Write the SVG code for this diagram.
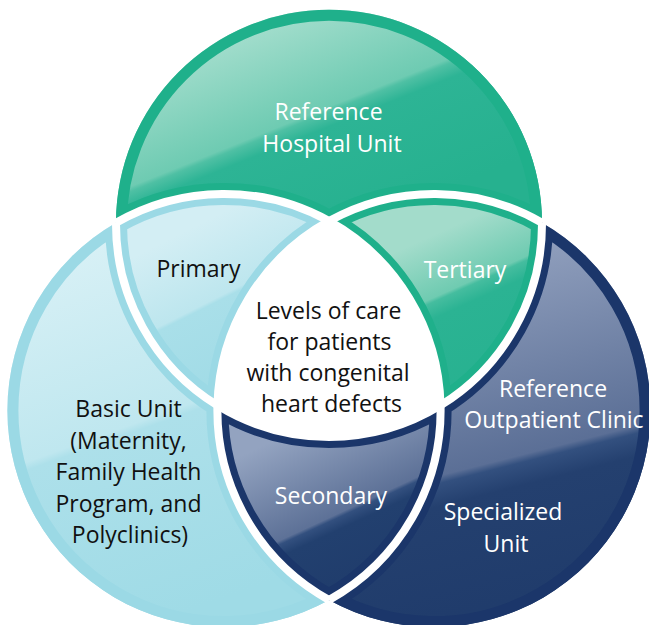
<svg xmlns="http://www.w3.org/2000/svg" xmlns:xlink="http://www.w3.org/1999/xlink" width="649" height="625" viewBox="0 0 649 625">
<style>
.lbl{font-family:"Open Sans","Noto Sans","Liberation Sans",sans-serif;font-size:23px;text-anchor:middle}
.w{fill:#ffffff}
.k{fill:#111111}
.gap{fill:none;stroke:#ffffff;stroke-width:8}
.band{fill:none;stroke-width:22}
</style>
<defs>
<path id="p-top" d="M116,222.74 A213,213 0 1 1 542,222.74 A216.6,216.6 0 0 0 329,221.05 A216.6,216.6 0 0 0 116,222.74 Z"/>
<path id="p-pri" d="M116,222.74 A216.6,216.6 0 0 1 329,221.05 A216.6,216.6 0 0 0 217.46,405.46 A213,213 0 0 1 116,222.74 Z"/>
<path id="p-ter" d="M329,221.05 A216.6,216.6 0 0 1 542,222.74 A213,213 0 0 1 440.54,405.46 A216.6,216.6 0 0 0 329,221.05 Z"/>
<path id="p-sec" d="M217.46,405.46 A213,213 0 0 0 440.54,405.46 A216.6,216.6 0 0 1 329,599.95 A216.6,216.6 0 0 1 217.46,405.46 Z"/>
<path id="p-cen" d="M329,221.05 A216.6,216.6 0 0 1 440.54,405.46 A213,213 0 0 1 217.46,405.46 A216.6,216.6 0 0 1 329,221.05 Z"/>
<path id="p-lft" d="M116,222.74 A216.6,216.6 0 0 0 7.4,410.5 A216.6,216.6 0 0 0 329,599.95 A216.6,216.6 0 0 1 217.46,405.46 A213,213 0 0 1 116,222.74 Z"/>
<path id="p-rgt" d="M542,222.74 A216.6,216.6 0 0 1 650.6,410.5 A216.6,216.6 0 0 1 329,599.95 A216.6,216.6 0 0 0 440.54,405.46 A213,213 0 0 0 542,222.74 Z"/>
<clipPath id="c-top"><use xlink:href="#p-top"/></clipPath>
<clipPath id="c-pri"><use xlink:href="#p-pri"/></clipPath>
<clipPath id="c-ter"><use xlink:href="#p-ter"/></clipPath>
<clipPath id="c-sec"><use xlink:href="#p-sec"/></clipPath>
<clipPath id="c-lft"><use xlink:href="#p-lft"/></clipPath>
<clipPath id="c-rgt"><use xlink:href="#p-rgt"/></clipPath>
<linearGradient id="g-top" gradientUnits="userSpaceOnUse" x1="248" y1="20" x2="334" y2="234">
<stop offset="0" stop-color="#a8dfcf"/><stop offset="0.48" stop-color="#6ecbb2"/><stop offset="0.5" stop-color="#4fc0a4"/><stop offset="0.56" stop-color="#2db495"/><stop offset="1" stop-color="#26b18f"/>
</linearGradient>
<linearGradient id="g-ter" gradientUnits="userSpaceOnUse" x1="456" y1="225" x2="534" y2="399">
<stop offset="0" stop-color="#a3dccb"/><stop offset="0.3" stop-color="#6fcbb1"/><stop offset="0.32" stop-color="#45bd9f"/><stop offset="0.4" stop-color="#2bb393"/><stop offset="1" stop-color="#26b18f"/>
</linearGradient>
<linearGradient id="g-pri" gradientUnits="userSpaceOnUse" x1="181" y1="233" x2="264" y2="398">
<stop offset="0" stop-color="#d3eef4"/><stop offset="0.4" stop-color="#bde6ee"/><stop offset="0.42" stop-color="#a9dfe9"/><stop offset="1" stop-color="#9edae5"/>
</linearGradient>
<linearGradient id="g-lft" gradientUnits="userSpaceOnUse" x1="58" y1="244" x2="189" y2="611">
<stop offset="0" stop-color="#d9f1f6"/><stop offset="0.5" stop-color="#bfe7ef"/><stop offset="0.52" stop-color="#ade0ea"/><stop offset="1" stop-color="#9fdbe6"/>
</linearGradient>
<linearGradient id="g-rgt" gradientUnits="userSpaceOnUse" x1="493" y1="252" x2="584" y2="611">
<stop offset="0" stop-color="#909fbd"/><stop offset="0.55" stop-color="#5b6f96"/><stop offset="0.57" stop-color="#33507f"/><stop offset="0.63" stop-color="#24406f"/><stop offset="1" stop-color="#1f3b6b"/>
</linearGradient>
<linearGradient id="g-sec" gradientUnits="userSpaceOnUse" x1="308" y1="425" x2="386" y2="594">
<stop offset="0" stop-color="#93a3c0"/><stop offset="0.5" stop-color="#5d7197"/><stop offset="0.52" stop-color="#33507f"/><stop offset="0.58" stop-color="#22406f"/><stop offset="1" stop-color="#1f3b6b"/>
</linearGradient>
</defs>

<g id="node-reference-hospital-unit">
<use xlink:href="#p-top" fill="url(#g-top)"/>
<use xlink:href="#p-top" class="band" stroke="#1fb08b" clip-path="url(#c-top)"/>
<text class="lbl w" x="328.5" y="120">Reference</text>
<text class="lbl w" x="332" y="152">Hospital Unit</text>
</g>

<g id="node-basic-unit">
<use xlink:href="#p-lft" fill="url(#g-lft)"/>
<use xlink:href="#p-lft" class="band" stroke="#9bd9e5" clip-path="url(#c-lft)"/>
<text class="lbl k" x="128.5" y="417">Basic Unit</text>
<text class="lbl k" x="128.5" y="448.5">(Maternity,</text>
<text class="lbl k" x="128.5" y="480">Family Health</text>
<text class="lbl k" x="128.5" y="511.5">Program, and</text>
<text class="lbl k" x="130" y="543">Polyclinics)</text>
</g>

<g id="node-specialized-unit">
<use xlink:href="#p-rgt" fill="url(#g-rgt)"/>
<use xlink:href="#p-rgt" class="band" stroke="#1b366a" clip-path="url(#c-rgt)"/>
<text class="lbl w" x="553" y="397">Reference</text>
<text class="lbl w" x="554" y="428">Outpatient Clinic</text>
<text class="lbl w" x="503" y="520">Specialized</text>
<text class="lbl w" x="506" y="552">Unit</text>
</g>

<g id="node-primary">
<use xlink:href="#p-pri" fill="url(#g-pri)"/>
<use xlink:href="#p-pri" class="band" stroke="#9bd9e5" clip-path="url(#c-pri)"/>
<text class="lbl k" x="198.5" y="277">Primary</text>
</g>

<g id="node-tertiary">
<use xlink:href="#p-ter" fill="url(#g-ter)"/>
<use xlink:href="#p-ter" class="band" stroke="#1fb08b" clip-path="url(#c-ter)"/>
<text class="lbl w" x="465" y="278">Tertiary</text>
</g>

<g id="node-secondary">
<use xlink:href="#p-sec" fill="url(#g-sec)"/>
<use xlink:href="#p-sec" class="band" stroke="#1b366a" clip-path="url(#c-sec)"/>
<text class="lbl w" x="331" y="504">Secondary</text>
</g>

<g id="node-center">
<use xlink:href="#p-cen" fill="#ffffff"/>
<text class="lbl k" x="328.5" y="319">Levels of care</text>
<text class="lbl k" x="329.5" y="350">for patients</text>
<text class="lbl k" x="328" y="381">with congenital</text>
<text class="lbl k" x="331.5" y="412">heart defects</text>
</g>

<g id="connectors">
<path class="gap" d="M116,222.74 A213,213 0 0 0 217.46,405.46 A213,213 0 0 0 440.54,405.46 A213,213 0 0 0 542,222.74"/>
<path class="gap" d="M116,222.74 A216.6,216.6 0 0 1 329,221.05 A216.6,216.6 0 0 1 440.54,405.46 A216.6,216.6 0 0 1 329,599.95"/>
<path class="gap" d="M542,222.74 A216.6,216.6 0 0 0 329,221.05 A216.6,216.6 0 0 0 217.46,405.46 A216.6,216.6 0 0 0 329,599.95"/>
</g>
</svg>
